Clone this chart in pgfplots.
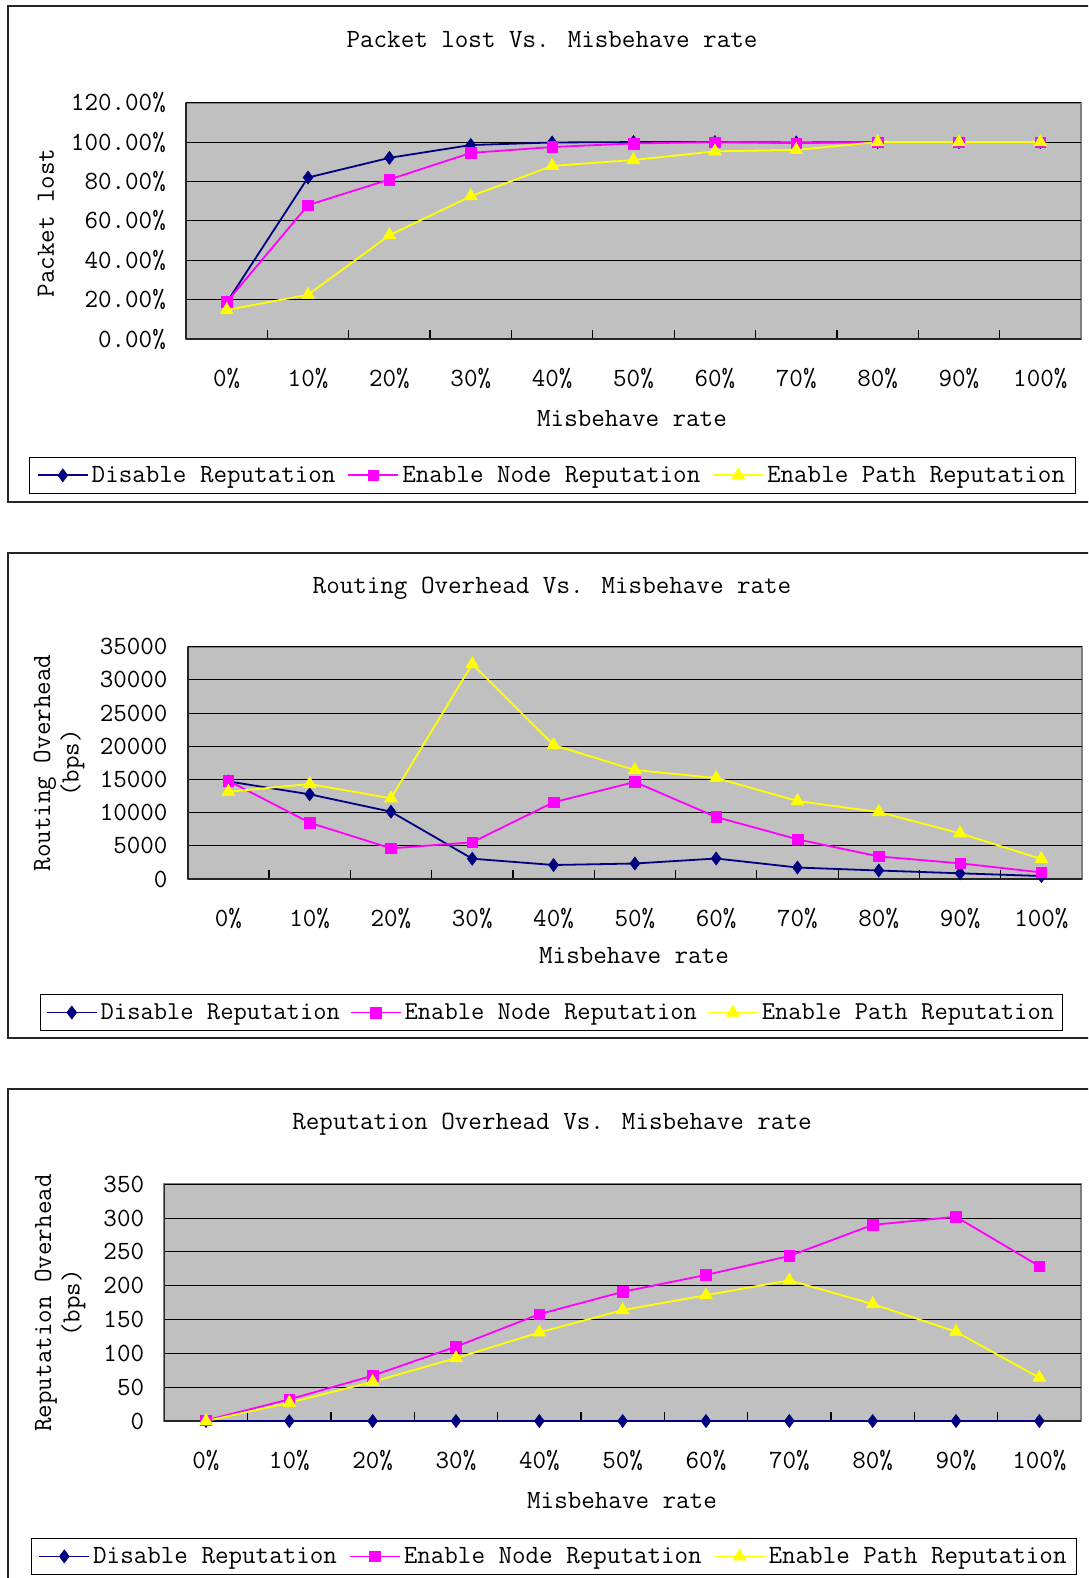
\documentclass[border=0pt]{standalone}
\usepackage{pgfplots}
\pgfplotsset{compat=1.18}
\definecolor{navyc}{RGB}{0,0,128}
\definecolor{magc}{RGB}{255,0,255}
\definecolor{yelc}{RGB}{255,255,0}
\definecolor{plotgray}{RGB}{192,192,192}
\newcommand{\tf}{\fontsize{26.3}{28.5}\selectfont\ttfamily}
\newcommand{\tfs}{\fontsize{25.8}{28}\selectfont\ttfamily}
\pgfplotsset{
 reppanel/.style={
  scale only axis, anchor=south west,
  xmin=-0.5, xmax=10.5,
  xtick={0,...,10},
  xticklabels={0\%,10\%,20\%,30\%,40\%,50\%,60\%,70\%,80\%,90\%,100\%},
  minor xtick={0.5,1.5,...,9.5},
  major x tick style={draw=none},
  minor tick length=9pt,
  tick align=inside,
  minor x tick style={black, line width=1.2pt},
  ytick style={draw=none},
  ymajorgrids, grid style={black, line width=1pt},
  axis background/.style={fill=plotgray, draw=gray, line width=2pt},
  axis x line*=bottom, axis y line*=left,
  axis line style={black!85, line width=1.6pt, -},
  ticklabel style={font=\tf},
  xticklabel style={anchor=base, yshift=-47pt, inner sep=0pt},
  yticklabel style={anchor=east, inner sep=0pt, xshift=-20pt},
  scaled y ticks=false,
  clip=false,
  legend columns=3,
  legend style={font=\tf, draw=black, line width=1pt, fill=white, inner xsep=7pt, inner ysep=6pt, nodes={inner sep=3pt}, /tikz/every even column/.append style={column sep=9pt}, anchor=center},
  legend image code/.code={\draw[line width=1.8pt, mark repeat=2,mark phase=2] plot coordinates {(0pt,0pt) (25pt,0pt) (50pt,0pt)};},
 },
 sdis/.style={navyc, line width=1.8pt, mark=diamond*, mark size=6.6pt, mark options={solid,fill=navyc,draw=navyc,line width=0.5pt}},
 snode/.style={magc, line width=1.8pt, mark=square*, mark size=5.3pt, mark options={solid,fill=magc,draw=magc,line width=0.5pt}},
 spath/.style={yelc, line width=1.8pt, mark=triangle*, mark size=7.5pt, mark options={solid,fill=yelc,draw=yelc,line width=0.5pt}},
}
\begin{document}
\begin{tikzpicture}
\path[use as bounding box] (0pt,0pt) rectangle (1088pt,-1578pt);
\clip (0pt,0pt) rectangle (1088pt,-1578pt);
\fill[white] (0pt,0pt) rectangle (1088pt,-1578pt);
% frames
\draw[line width=2pt, black!85] (8pt,-6pt) rectangle (1100pt,-501.7pt);
\draw[line width=2pt, black!85] (8pt,-552.7pt) rectangle (1100pt,-1037.7pt);
\draw[line width=2pt, black!85] (8pt,-1088.7pt) rectangle (1100pt,-1600pt);
% titles and labels
\node[font=\tf, anchor=base] at (552pt,-48pt) {Packet lost Vs. Misbehave rate};
\node[font=\tf, anchor=base] at (632pt,-426pt) {Misbehave rate};
\node[font=\tf, rotate=90, anchor=center] at (46pt,-223pt) {Packet lost};
\node[font=\tf, anchor=base] at (552pt,-593pt) {Routing Overhead Vs. Misbehave rate};
\node[font=\tf, anchor=base] at (634pt,-963pt) {Misbehave rate};
\node[font=\tf, rotate=90, anchor=center, align=center] at (59pt,-763pt) {Routing Overhead\\(bps)};
\node[font=\tf, anchor=base] at (552pt,-1129pt) {Reputation Overhead Vs. Misbehave rate};
\node[font=\tf, anchor=base] at (622pt,-1508pt) {Misbehave rate};
\node[font=\tf, rotate=90, anchor=center, align=center] at (60pt,-1303pt) {Reputation Overhead\\(bps)};

% Panel 1
\begin{axis}[reppanel, at={(186pt,-339pt)}, width=895pt, height=236.3pt,
  ymin=0, ymax=120, ytick={0,20,...,120},
  yticklabels={0.00\%,20.00\%,40.00\%,60.00\%,80.00\%,100.00\%,120.00\%},
  legend style={at={(axis description cs:0.4095,-0.577)}}]
\addplot[sdis] coordinates {(0,18.5) (1,82) (2,92) (3,98.5) (4,99.8) (5,100) (6,100) (7,99.8) (8,100) (9,100) (10,100)};
\addplot[snode] coordinates {(0,18.8) (1,68) (2,81) (3,94.5) (4,97.5) (5,99.3) (6,100) (7,99.5) (8,100) (9,100) (10,100)};
\addplot[spath] coordinates {(0,14.7) (1,22.5) (2,52.7) (3,72.5) (4,87.9) (5,90.9) (6,95.3) (7,96) (8,100) (9,100) (10,100)};
\legend{Disable Reputation,Enable Node Reputation,Enable Path Reputation}
\end{axis}

% Panel 2
\begin{axis}[reppanel, at={(187.7pt,-879pt)}, width=894.3pt, height=232.3pt,
  ymin=0, ymax=35000, ytick={0,5000,...,35000},
  yticklabels={0,5000,10000,15000,20000,25000,30000,35000},
  legend style={at={(axis description cs:0.4068,-0.5747)}, font=\tfs, inner xsep=5pt, /tikz/every even column/.append style={column sep=7pt}}]
\addplot[sdis] coordinates {(0,14700) (1,12760) (2,10140) (3,3060) (4,2110) (5,2335) (6,3090) (7,1730) (8,1280) (9,860) (10,450)};
\addplot[snode] coordinates {(0,14810) (1,8480) (2,4620) (3,5530) (4,11560) (5,14620) (6,9340) (7,5980) (8,3400) (9,2360) (10,1000)};
\addplot[spath] coordinates {(0,13150) (1,14310) (2,12160) (3,32390) (4,20190) (5,16420) (6,15220) (7,11750) (8,10090) (9,6880) (10,3010)};
\legend{Disable Reputation,Enable Node Reputation,Enable Path Reputation}
\end{axis}

% Panel 3
\begin{axis}[reppanel, at={(164.3pt,-1421pt)}, width=916.7pt, height=236.7pt,
  ymin=0, ymax=350, ytick={0,50,...,350},
  yticklabels={0,50,100,150,200,250,300,350},
  legend style={at={(axis description cs:0.4251,-0.572)}}]
\addplot[sdis] coordinates {(0,0) (1,0) (2,0) (3,0) (4,0) (5,0) (6,0) (7,0) (8,0) (9,0) (10,0)};
\addplot[snode] coordinates {(0,1) (1,32) (2,67) (3,110) (4,158) (5,191) (6,216) (7,244) (8,290) (9,302) (10,229)};
\addplot[spath] coordinates {(0,0) (1,27) (2,58) (3,93) (4,131) (5,164) (6,186) (7,208) (8,173) (9,132) (10,64)};
\legend{Disable Reputation,Enable Node Reputation,Enable Path Reputation}
\end{axis}
\end{tikzpicture}
\end{document}
